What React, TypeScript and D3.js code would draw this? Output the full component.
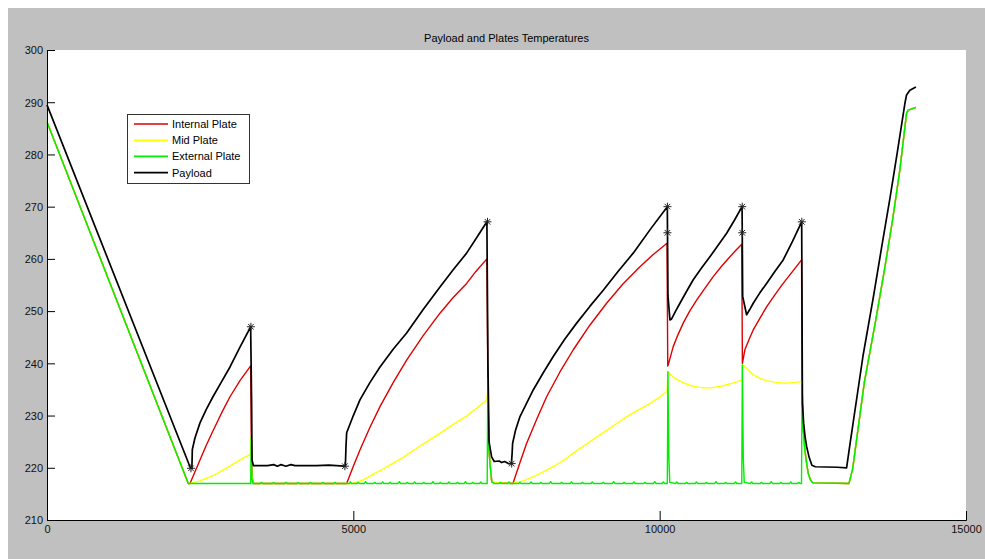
import { useRef, useEffect } from "react";
import * as d3 from "d3";

type Pt = [number, number];

const title = "Payload and Plates Temperatures";
const seriesNames = ["Internal Plate", "Mid Plate", "External Plate", "Payload"];
const seriesColors = ["#dd0000", "#ffff00", "#00ee00", "#000000"];
const xTicks = [0, 5000, 10000, 15000];
const yTicks = [210, 220, 230, 240, 250, 260, 270, 280, 290, 300];

// cool-down after the last heating pulse, shared by the three plates
const tail: Pt[] = [
  [12340, 228.0], [12370, 223.4], [12400, 220.8], [12425, 218.9], [12460, 217.7], [12500, 217.1],
  [13090, 217.0], [13150, 219.8], [13340, 236.3], [13529, 248.4], [13670, 258.0], [13801, 267.4],
  [13920, 277.0], [14030, 287.9], [14057, 288.5], [14182, 289.0],
];

const internalPlate: Pt[] = [
  [0, 286.2], [2306, 217.0], [2334, 217.0], [2497, 221.5], [2600, 224.3], [2714, 227.2],
  [2850, 230.5], [2987, 233.6], [3150, 236.7], [3324, 239.5], [3334, 226.0], [3350, 218.0],
  [3370, 217.0], [4891, 217.0], [5000, 220.3], [5108, 223.4], [5270, 227.7], [5435, 231.7],
  [5650, 236.3], [5870, 240.6], [6140, 245.3], [6414, 249.6], [6630, 252.6], [6849, 255.3],
  [7000, 257.6], [7180, 260.0], [7195, 237.2], [7215, 223.0], [7260, 217.2], [7605, 217.0],
  [7720, 221.0], [7829, 224.7], [8000, 229.5], [8155, 233.6], [8370, 238.3], [8590, 242.6],
  [8860, 247.3], [9134, 251.5], [9400, 255.2], [9678, 258.5], [9900, 260.9], [10120, 263.0],
  [10132, 239.5], [10140, 239.7], [10221, 243.2], [10300, 245.5], [10384, 247.7], [10490, 250.0],
  [10603, 252.1], [10740, 254.4], [10874, 256.6], [11010, 258.6], [11147, 260.4], [11240, 261.6],
  [11340, 262.8], [11350, 240.0], [11391, 242.6], [11460, 244.6], [11527, 246.4], [11640, 248.7],
  [11745, 250.8], [11880, 253.1], [12016, 255.3], [12170, 257.6], [12316, 259.8], [12325, 236.0],
  ...tail,
];

const midPlate: Pt[] = [
  [0, 286.2], [2306, 217.0], [2334, 217.0], [2470, 217.4], [2606, 218.0], [2740, 218.7],
  [2877, 219.6], [3010, 220.5], [3150, 221.5], [3324, 222.6], [3332, 226.0], [3345, 218.5],
  [3365, 217.0], [4990, 217.0], [5160, 217.7], [5326, 218.8], [5490, 219.8], [5652, 220.9],
  [5815, 222.0], [5979, 223.3], [6200, 225.0], [6414, 226.6], [6630, 228.3], [6849, 229.9],
  [7010, 231.4], [7180, 233.0], [7195, 235.0], [7215, 223.0], [7260, 217.2], [7600, 217.0],
  [7770, 217.5], [7936, 218.3], [8100, 219.2], [8263, 220.2], [8430, 221.4], [8590, 222.8],
  [8800, 224.5], [9025, 226.3], [9240, 228.0], [9461, 229.8], [9650, 231.1], [9841, 232.3],
  [9980, 233.4], [10120, 234.6], [10135, 238.4], [10175, 237.9], [10221, 237.4], [10300, 236.8],
  [10384, 236.3], [10490, 235.8], [10603, 235.5], [10710, 235.3], [10820, 235.3], [10930, 235.5],
  [11037, 235.7], [11190, 236.2], [11340, 236.8], [11350, 239.7], [11391, 239.4], [11460, 238.6],
  [11527, 237.8], [11640, 237.1], [11745, 236.7], [11880, 236.4], [12016, 236.2], [12170, 236.3],
  [12316, 236.5], [12325, 236.0],
  ...tail,
];

const externalPlate: Pt[] = [
  [0, 286.2], [2306, 217.0], [3325, 217.0], [3332, 225.8], [3345, 218.0], [3360, 217.0],
  [3480, 217.0], [3500, 217.2], [3520, 217.0], [3680, 217.0], [3700, 217.15], [3720, 217.0],
  [3880, 217.0], [3900, 217.2], [3920, 217.0], [4080, 217.0], [4100, 217.15], [4120, 217.0],
  [4280, 217.0], [4300, 217.2], [4320, 217.0], [4480, 217.0], [4500, 217.15], [4520, 217.0],
  [4680, 217.0], [4700, 217.2], [4720, 217.0], [4930, 217.0], [4950, 217.3], [4970, 217.0],
  [5060, 217.0], [5080, 217.2], [5100, 217.0], [5180, 217.0], [5200, 217.35], [5220, 217.0],
  [5330, 217.0], [5350, 217.2], [5370, 217.0], [5460, 217.0], [5480, 217.3], [5500, 217.0],
  [5580, 217.0], [5600, 217.2], [5620, 217.0], [5730, 217.0], [5750, 217.35], [5770, 217.0],
  [5860, 217.0], [5880, 217.2], [5900, 217.0], [5980, 217.0], [6000, 217.3], [6020, 217.0],
  [6130, 217.0], [6150, 217.2], [6170, 217.0], [6280, 217.0], [6300, 217.35], [6320, 217.0],
  [6400, 217.0], [6420, 217.2], [6440, 217.0], [6540, 217.0], [6560, 217.3], [6580, 217.0],
  [6680, 217.0], [6700, 217.2], [6720, 217.0], [6810, 217.0], [6830, 217.35], [6850, 217.0],
  [6930, 217.0], [6950, 217.2], [6970, 217.0], [7060, 217.0], [7080, 217.3], [7100, 217.0],
  [7185, 217.0], [7195, 237.2], [7210, 224.0], [7235, 220.2], [7260, 217.3], [7300, 217.0],
  [7380, 217.0], [7400, 217.2], [7420, 217.0], [7520, 217.0], [7540, 217.3], [7560, 217.0],
  [7700, 217.0], [7720, 217.2], [7740, 217.0], [7880, 217.0], [7900, 217.3], [7920, 217.0],
  [8040, 217.0], [8060, 217.2], [8080, 217.0], [8200, 217.0], [8220, 217.35], [8240, 217.0],
  [8380, 217.0], [8400, 217.2], [8420, 217.0], [8540, 217.0], [8560, 217.3], [8580, 217.0],
  [8720, 217.0], [8740, 217.2], [8760, 217.0], [8880, 217.0], [8900, 217.3], [8920, 217.0],
  [9060, 217.0], [9080, 217.2], [9100, 217.0], [9230, 217.0], [9250, 217.35], [9270, 217.0],
  [9400, 217.0], [9420, 217.2], [9440, 217.0], [9560, 217.0], [9580, 217.3], [9600, 217.0],
  [9740, 217.0], [9760, 217.2], [9780, 217.0], [9900, 217.0], [9920, 217.35], [9940, 217.0],
  [10040, 217.0], [10060, 217.3], [10080, 217.0], [10125, 217.0], [10135, 238.4], [10150, 222.0],
  [10165, 217.2], [10260, 217.0], [10280, 217.3], [10300, 217.0], [10420, 217.0], [10440, 217.2],
  [10460, 217.0], [10580, 217.0], [10600, 217.3], [10620, 217.0], [10740, 217.0], [10760, 217.2],
  [10780, 217.0], [10900, 217.0], [10920, 217.35], [10940, 217.0], [11060, 217.0], [11080, 217.2],
  [11100, 217.0], [11220, 217.0], [11240, 217.3], [11260, 217.0], [11340, 217.0], [11350, 239.7],
  [11365, 222.0], [11380, 217.2], [11480, 217.0], [11500, 217.3], [11520, 217.0], [11640, 217.0],
  [11660, 217.2], [11680, 217.0], [11800, 217.0], [11820, 217.35], [11840, 217.0], [11960, 217.0],
  [11980, 217.2], [12000, 217.0], [12120, 217.0], [12140, 217.3], [12160, 217.0], [12250, 217.0],
  [12270, 217.2], [12290, 217.0], [12315, 217.0], [12325, 236.0],
  ...tail,
];

const payload: Pt[] = [
  [0, 289.5], [2340, 220.0], [2365, 219.9], [2372, 223.5], [2415, 225.7], [2497, 228.6],
  [2600, 231.2], [2709, 233.6], [2850, 236.5], [2987, 239.3], [3150, 243.1], [3324, 247.0],
  [3340, 232.0], [3346, 221.5], [3370, 220.4], [3600, 220.4], [3700, 220.6], [3760, 220.3],
  [3820, 220.6], [3900, 220.3], [3980, 220.6], [4050, 220.4], [4400, 220.4], [4600, 220.5],
  [4850, 220.3], [4870, 220.4], [4880, 224.0], [4891, 226.7], [5000, 230.0], [5108, 233.0],
  [5270, 236.3], [5435, 239.3], [5650, 242.7], [5870, 245.8], [6140, 250.3], [6414, 254.6],
  [6630, 257.9], [6849, 261.1], [7020, 264.2], [7180, 267.1], [7197, 240.0], [7215, 225.0],
  [7257, 222.1], [7300, 221.2], [7380, 221.3], [7420, 221.0], [7470, 221.2], [7530, 220.8],
  [7580, 220.8], [7592, 222.8], [7600, 224.7], [7650, 227.3], [7720, 229.8], [7936, 234.9],
  [8100, 238.2], [8263, 241.3], [8450, 244.6], [8645, 247.7], [8860, 250.9], [9079, 254.0],
  [9320, 257.6], [9568, 261.1], [9850, 265.7], [10125, 270.0], [10135, 253.0], [10168, 248.3],
  [10195, 248.5], [10260, 250.0], [10331, 251.5], [10440, 253.8], [10548, 256.0], [10680, 258.2],
  [10820, 260.4], [10960, 262.7], [11093, 264.9], [11220, 267.4], [11345, 270.0], [11355, 252.8],
  [11419, 249.3], [11470, 250.3], [11527, 251.5], [11630, 253.4], [11745, 255.3], [11880, 257.6],
  [12016, 259.8], [12170, 263.4], [12318, 267.1], [12330, 232.4], [12350, 228.5], [12375, 225.8],
  [12400, 224.0], [12440, 222.0], [12485, 220.5], [12540, 220.2], [12900, 220.1], [13051, 220.0],
  [13110, 224.8], [13320, 241.5], [13485, 252.5], [13620, 262.0], [13757, 271.5], [13880, 280.5],
  [14003, 289.8], [14030, 291.4], [14084, 292.3], [14182, 292.9],
];

const markers: Pt[] = [
  [2350, 219.9], [3328, 247.0], [4862, 220.3], [7190, 267.1], [7585, 220.8],
  [10127, 270.0], [10127, 265.0], [11348, 270.0], [11348, 265.0], [12320, 267.1],
];

const App = () => {
  const svgRef = useRef<SVGSVGElement>(null);
  const width = 985;
  const height = 559;
  const left = 47;
  const right = 966;
  const top = 50;
  const bottom = 520;

  useEffect(() => {
    if (!svgRef.current) {
      return;
    }
    const svg = d3.select(svgRef.current);
    svg.selectAll("*").remove();
    const font = "'Liberation Sans', Arial, sans-serif";

    svg.append("rect").attr("width", width).attr("height", height).attr("fill", "#ffffff");
    svg.append("rect").attr("x", 8).attr("y", 8).attr("width", width - 8).attr("height", height - 8).attr("fill", "#c0c0c0");
    svg.append("rect").attr("x", left).attr("y", top).attr("width", right - left).attr("height", bottom - top).attr("fill", "#ffffff");

    const x = d3.scaleLinear().domain([0, 15000]).range([left, right]);
    const y = d3.scaleLinear().domain([210, 300]).range([bottom, top]);

    const plot = svg.append("g");
    const line = d3.line<Pt>().x((d) => x(d[0])).y((d) => y(d[1]));
    const allSeries = [internalPlate, midPlate, externalPlate, payload];
    allSeries.forEach((s, i) => {
      plot
        .append("path")
        .attr("d", line(s))
        .attr("fill", "none")
        .attr("stroke", seriesColors[i])
        .attr("stroke-width", i === 3 ? 1.7 : 1.4)
        .attr("stroke-linejoin", "round");
    });

    const star = "M-4,0H4M0,-4V4M-2.8,-2.8L2.8,2.8M-2.8,2.8L2.8,-2.8";
    plot
      .selectAll("path.star")
      .data(markers)
      .enter()
      .append("path")
      .attr("class", "star")
      .attr("d", star)
      .attr("transform", (d) => `translate(${x(d[0])},${y(d[1])})`)
      .attr("stroke", "#222")
      .attr("stroke-width", 1)
      .attr("fill", "none");

    // axes
    const yAxis = svg.append("g").attr("transform", `translate(${left},0)`)
      .call(d3.axisRight(y).tickValues(yTicks).tickSize(8).tickFormat((d) => String(d)));
    yAxis.select(".domain").attr("stroke", "#000");
    yAxis.selectAll("text").attr("x", -4).attr("text-anchor", "end").attr("dy", "0.35em");

    const xAxis = svg.append("g").attr("transform", `translate(0,${bottom})`)
      .call(d3.axisTop(x).tickValues(xTicks).tickSize(9).tickFormat((d) => String(d)));
    xAxis.select(".domain").attr("stroke", "#000");
    xAxis.selectAll("text").attr("y", 13).attr("dy", 0);

    [yAxis, xAxis].forEach((g) => {
      g.selectAll("text").attr("font-family", font).attr("font-size", 11).attr("fill", "#111");
      g.selectAll(".tick line").attr("stroke", "#000");
    });

    svg.append("text")
      .attr("x", (left + right) / 2)
      .attr("y", 42)
      .attr("text-anchor", "middle")
      .attr("font-family", font)
      .attr("font-size", 11)
      .attr("fill", "#000")
      .text(title);

    // legend
    const legend = svg.append("g");
    legend.append("rect")
      .attr("x", 127.5).attr("y", 114.5).attr("width", 122).attr("height", 69)
      .attr("fill", "#fff").attr("stroke", "#333").attr("stroke-width", 1);
    seriesNames.forEach((name, i) => {
      const ry = 124 + i * 16.2;
      legend.append("line")
        .attr("x1", 134).attr("x2", 168).attr("y1", ry).attr("y2", ry)
        .attr("stroke", seriesColors[i]).attr("stroke-width", 1.6);
      legend.append("text")
        .attr("x", 172).attr("y", ry + 4)
        .attr("font-family", font).attr("font-size", 11).attr("fill", "#000")
        .text(name);
    });
  }, []);

  return (
    <svg
      ref={svgRef}
      width={width}
      height={height}
      style={{ position: "absolute", left: 0, top: 0, display: "block" }}
    />
  );
};

export default App;
